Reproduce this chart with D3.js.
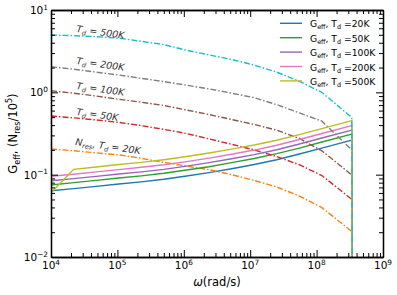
<!DOCTYPE html>
<html>
<head>
<meta charset="utf-8">
<script src="https://cdn.jsdelivr.net/npm/d3@7"></script>
<style>
  body { margin: 0; background: #fff; }
  text { font-family: "DejaVu Sans", sans-serif; fill: #000; }
</style>
</head>
<body>
<svg id="chart" width="397" height="295"></svg>
<script>
// angular frequency samples (rad/s)
const omega = [1e4, 2.19e4, 4.79e4, 1.05e5, 2.29e5, 5.01e5, 1.1e6, 2.4e6, 5.25e6, 1.15e7, 2.51e7, 5.5e7, 1.2e8, 3.39e8];
const cutoff = 3.4e8; // everything drops to zero here

// G_eff curves
const geff20  = [0.0637, 0.0676, 0.0721, 0.0769, 0.0818, 0.0880, 0.0962, 0.106, 0.118, 0.133, 0.152, 0.178, 0.210, 0.263];
const geff50  = [0.0748, 0.0800, 0.0853, 0.0910, 0.0967, 0.104, 0.114, 0.125, 0.140, 0.157, 0.180, 0.210, 0.249, 0.311];
const geff100 = [0.0843, 0.0894, 0.0953, 0.102, 0.108, 0.116, 0.127, 0.140, 0.156, 0.175, 0.201, 0.236, 0.279, 0.348];
const geff200 = [0.0957, 0.101, 0.108, 0.115, 0.123, 0.132, 0.144, 0.159, 0.177, 0.199, 0.228, 0.267, 0.316, 0.395];
const geff500 = [0.0603, 0.116, 0.124, 0.133, 0.141, 0.152, 0.166, 0.183, 0.204, 0.229, 0.262, 0.307, 0.363, 0.454];

// N_res / 1e5 curves
const nres20  = [0.205, 0.195, 0.184, 0.174, 0.158, 0.141, 0.127, 0.115, 0.100, 0.0851, 0.0708, 0.0550, 0.0398, 0.0204];
const nres50  = [0.515, 0.490, 0.462, 0.431, 0.394, 0.355, 0.316, 0.272, 0.234, 0.200, 0.166, 0.132, 0.0977, 0.0501];
const nres100 = [1.045, 0.977, 0.902, 0.822, 0.759, 0.692, 0.610, 0.537, 0.468, 0.407, 0.347, 0.275, 0.195, 0.099];
const nres200 = [2.05, 1.91, 1.76, 1.62, 1.48, 1.35, 1.22, 1.10, 0.977, 0.861, 0.708, 0.562, 0.447, 0.20];
const nres500 = [4.97, 4.88, 4.74, 4.55, 4.17, 3.80, 3.24, 2.85, 2.51, 2.14, 1.76, 1.36, 1.00, 0.494];

const temps = ['20K', '50K', '100K', '200K', '500K'];
const geffSeries = [geff20, geff50, geff100, geff200, geff500];
const nresSeries = [nres20, nres50, nres100, nres200, nres500];
const geffColors = ['#1f77b4', '#2ca02c', '#9467bd', '#e377c2', '#bcbd22'];
const nresColors = ['#ff7f0e', '#d62728', '#8c564b', '#7f7f7f', '#17becf'];

const xMajor = [1e4, 1e5, 1e6, 1e7, 1e8, 1e9];
const yMajor = [1e-2, 1e-1, 1e0, 1e1];

const svg = d3.select('#chart');
const padL = 51, padR = 383, padT = 10, padB = 257;

const x = d3.scaleLog().domain([1e4, 1e9]).range([padL, padR]);
const y = d3.scaleLog().domain([1e-2, 1e1]).range([padB, padT]);

const minorOf = (majors) => {
  const out = [];
  majors.slice(0, -1).forEach((m) => {
    for (let k = 2; k <= 9; k++) out.push(m * k);
  });
  return out;
};

// writes text with sub/superscript pieces
function rich(sel, parts, size) {
  let shift = 0;
  parts.forEach(([s, kind, style]) => {
    const target = kind === 'sub' ? size * 0.22 : kind === 'sup' ? -size * 0.42 : 0;
    const ts = sel.append('tspan')
      .attr('dy', target - shift)
      .style('font-size', (kind ? size * 0.7 : size) + 'px')
      .text(s);
    if (style) ts.style('font-style', style);
    shift = target;
  });
}

svg.append('clipPath').attr('id', 'plot-clip')
  .append('rect')
  .attr('x', padL).attr('y', padT)
  .attr('width', padR - padL).attr('height', padB - padT);

const line = d3.line().x((d) => x(d[0])).y((d) => y(d[1]));
const plot = svg.append('g').attr('clip-path', 'url(#plot-clip)');

geffSeries.forEach((vals, i) => {
  const pts = omega.map((w, j) => [w, vals[j]]);
  pts.push([cutoff, 1e-4]);
  plot.append('path')
    .attr('d', line(pts))
    .attr('fill', 'none')
    .attr('stroke', geffColors[i])
    .attr('stroke-width', 1.4);

  const npts = omega.map((w, j) => [w, nresSeries[i][j]]);
  npts.push([cutoff * 1.02, 1e-4]);
  plot.append('path')
    .attr('d', line(npts))
    .attr('fill', 'none')
    .attr('stroke', nresColors[i])
    .attr('stroke-width', 1.4)
    .attr('stroke-dasharray', '6,2,1.5,2');
});

// axes, all ticks pointing inward
const axes = svg.append('g');
function addAxis(gen, tx, ty, values, size) {
  axes.append('g')
    .attr('transform', `translate(${tx},${ty})`)
    .call(gen.tickValues(values).tickSize(size).tickSizeOuter(0).tickFormat(''))
    .call((g) => g.selectAll('line').attr('stroke', '#000').attr('stroke-width', 1))
    .call((g) => g.select('.domain').attr('stroke', '#000').attr('stroke-width', 1.3));
}
addAxis(d3.axisBottom(x), 0, padB, xMajor, -7);
addAxis(d3.axisBottom(x), 0, padB, minorOf(xMajor), -4);
addAxis(d3.axisTop(x), 0, padT, xMajor, -7);
addAxis(d3.axisTop(x), 0, padT, minorOf(xMajor), -4);
addAxis(d3.axisLeft(y), padL, 0, yMajor, -7);
addAxis(d3.axisLeft(y), padL, 0, minorOf(yMajor), -4);
addAxis(d3.axisRight(y), padR, 0, yMajor, -7);
addAxis(d3.axisRight(y), padR, 0, minorOf(yMajor), -4);

// tick labels
xMajor.forEach((v) => {
  const t = svg.append('text')
    .attr('x', x(v)).attr('y', 269)
    .attr('text-anchor', 'middle');
  rich(t, [['10'], [String(Math.round(Math.log10(v))), 'sup']], 10.5);
});
yMajor.forEach((v) => {
  const t = svg.append('text')
    .attr('x', 48).attr('y', y(v) + 4)
    .attr('text-anchor', 'end');
  rich(t, [['10'], [String(Math.round(Math.log10(v))).replace('-', '\u2212'), 'sup']], 10.5);
});

// axis labels
const xl = svg.append('text').attr('x', (padL + padR) / 2).attr('y', 285.5).attr('text-anchor', 'middle');
rich(xl, [['\u03c9', null, 'italic'], ['(rad/s)']], 11.5);

const yl = svg.append('text')
  .attr('transform', `translate(17,${(padT + padB) / 2}) rotate(-90)`)
  .attr('text-anchor', 'middle');
rich(yl, [['G'], ['eff', 'sub'], [', (N'], ['res', 'sub'], ['/10'], ['5', 'sup'], [')']], 11.5);

// legend
temps.forEach((t, i) => {
  const ly = 23.3 + i * 14.4;
  svg.append('line')
    .attr('x1', 280).attr('x2', 302)
    .attr('y1', ly).attr('y2', ly)
    .attr('stroke', geffColors[i]).attr('stroke-width', 1.4);
  const txt = svg.append('text').attr('x', 310).attr('y', ly + 4);
  rich(txt, [['G'], ['eff', 'sub'], [', T'], ['d', 'sub'], [' =' + t]], 9.2);
});

// curve annotations
const notes = [
  { x: 76, y: 32, parts: [['T'], ['d', 'sub'], [' = 500K']] },
  { x: 76, y: 64, parts: [['T'], ['d', 'sub'], [' = 200K']] },
  { x: 76, y: 89, parts: [['T'], ['d', 'sub'], [' = 100K']] },
  { x: 76, y: 115, parts: [['T'], ['d', 'sub'], [' = 50K']] },
  { x: 75, y: 145, parts: [['N'], ['res', 'sub'], [', T'], ['d', 'sub'], [' = 20K']] },
];
notes.forEach((n) => {
  const t = svg.append('text')
    .attr('transform', `translate(${n.x},${n.y}) rotate(8)`)
    .style('font-style', 'italic')
    .style('fill', '#333');
  rich(t, n.parts, 9.5);
});
</script>
</body>
</html>
